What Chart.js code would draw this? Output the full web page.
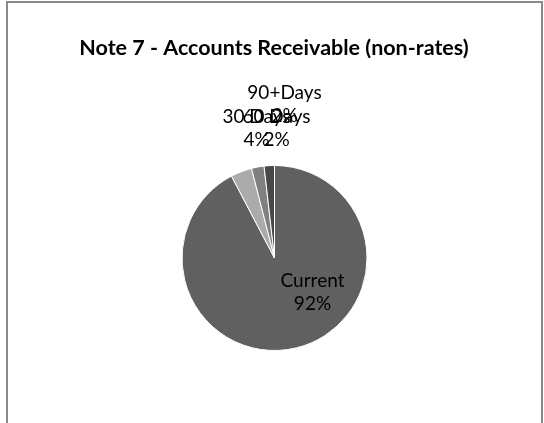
<!DOCTYPE html>
<html>
<head>
<meta charset="utf-8">
<script src="https://cdn.jsdelivr.net/npm/chart.js@4/dist/chart.umd.min.js"></script>
<style>
  html, body { margin: 0; padding: 0; background: #fff; width: 544px; height: 423px; overflow: hidden; }
  #frame { position: absolute; left: 6px; top: 1px; width: 537px; height: 440px; border: 2px solid #8a8a8a; box-sizing: border-box; }
  #wrap { position: absolute; left: 0; top: 0; width: 544px; height: 423px; }
</style>
</head>
<body>
<div id="frame"></div>
<div id="wrap"><canvas id="c" width="544" height="423"></canvas></div>
<script>
const chartTitle = "Note 7 - Accounts Receivable (non-rates)";
const categories = ["Current", "30 Days", "60 Days", "90+Days"];
const values = [92.3, 3.7, 2.2, 1.8];
const sliceColors = ["#606060", "#ababab", "#808080", "#484848"];

// label block centres relative to pie centre (dx, dy) for each slice
const labelOffsets = [[38, 34], [-18, -130], [2, -130], [10, -154]];

const total = values.reduce((a, b) => a + b, 0);
const labelFont = '19px Lato, "Liberation Sans", sans-serif';
const titleFont = 'bold 21.5px Lato, "Liberation Sans", sans-serif';

const textPlugin = {
  id: 'texts',
  afterDatasetsDraw(chart) {
    const ctx = chart.ctx;
    const meta = chart.getDatasetMeta(0);
    ctx.save();
    ctx.fillStyle = "#000";
    ctx.textAlign = "center";
    ctx.textBaseline = "middle";
    ctx.font = titleFont;
    ctx.fillText(chartTitle, 274, 48);
    ctx.font = labelFont;
    meta.data.forEach((arc, i) => {
      const cx = arc.x, cy = arc.y;
      const [dx, dy] = labelOffsets[i];
      const pct = Math.round(values[i] / total * 100) + "%";
      ctx.fillText(categories[i], cx + dx, cy + dy - 11.5);
      ctx.fillText(pct, cx + dx, cy + dy + 11.5);
    });
    ctx.restore();
  }
};

new Chart(document.getElementById('c'), {
  type: 'pie',
  data: {
    labels: categories,
    datasets: [{
      data: values,
      backgroundColor: sliceColors,
      borderColor: "#ffffff",
      borderWidth: 1
    }]
  },
  options: {
    responsive: false,
    animation: false,
    layout: { padding: { left: 181.5, right: 176.5, top: 165, bottom: 72 } },
    plugins: {
      legend: { display: false },
      tooltip: { enabled: false },
      title: { display: false }
    }
  },
  plugins: [textPlugin]
});
</script>
</body>
</html>
